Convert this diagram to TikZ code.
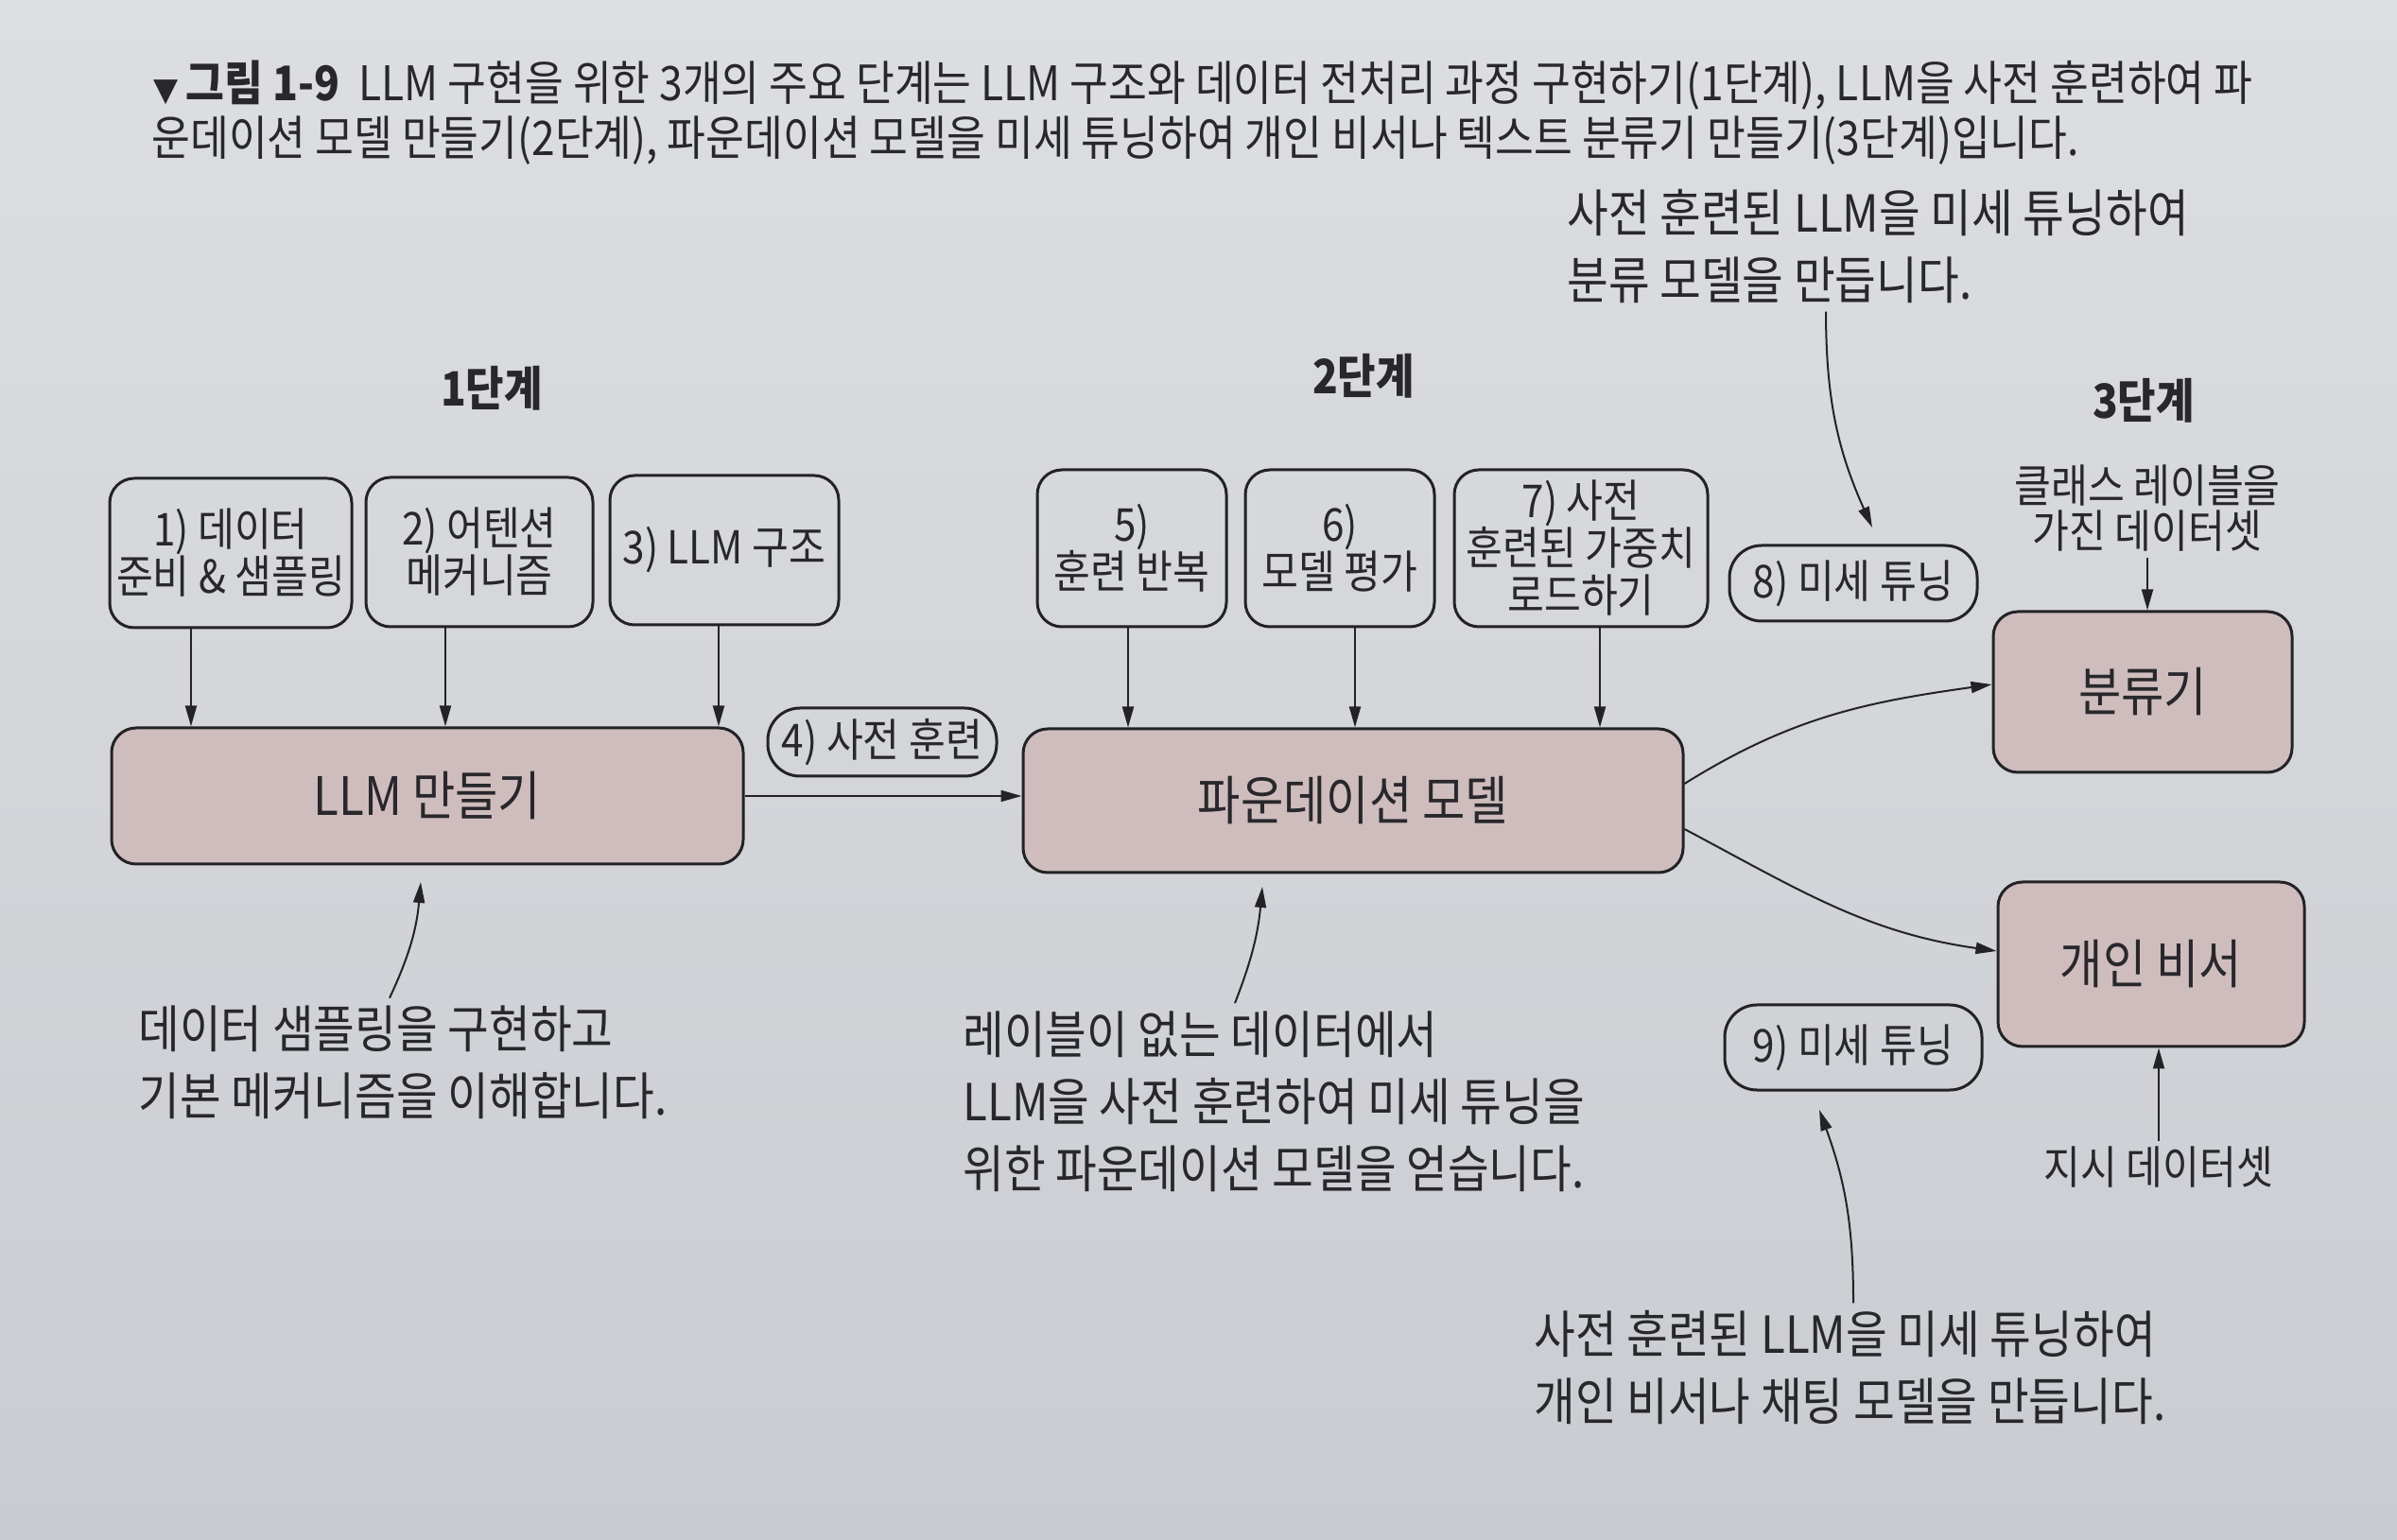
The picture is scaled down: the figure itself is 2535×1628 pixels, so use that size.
\documentclass[tikz,border=0pt]{standalone}
\usepackage{fontspec}
\setmainfont{Noto Sans CJK KR}[FakeStretch=0.88]
\newfontfamily\symf{DejaVu Sans}
\usetikzlibrary{arrows.meta}
\definecolor{bgtop}{RGB}{221,222,225}
\definecolor{bgbot}{RGB}{201,204,209}
\definecolor{pinkc}{RGB}{207,189,189}
\definecolor{txt}{RGB}{40,40,44}
\definecolor{linec}{RGB}{35,35,38}
\newcommand{\myfs}[2]{\fontsize{#1pt}{#2pt}\selectfont}
\tikzset{
  stepbox/.style={draw=linec, line width=1.5pt, rounded corners=13pt, align=center,
    text=txt, font=\myfs{24}{25}, inner sep=0pt},
  mainbox/.style={stepbox, fill=pinkc, font=\myfs{28}{32}},
  pillbox/.style={stepbox, rounded corners=17pt, font=\myfs{24}{28}},
  ann/.style={align=left, text=txt, font=\myfs{27}{35.5}, inner sep=0pt, anchor=west},
  small/.style={align=center, text=txt, font=\myfs{24}{24}, inner sep=0pt},
  stage/.style={text=txt, font=\bfseries\myfs{25}{28}, inner sep=0pt},
  capt/.style={anchor=west, inner sep=0pt, text=txt, font=\myfs{25.2}{28}},
  arr/.style={draw=linec, line width=1pt, -{Triangle[length=11pt,width=6pt]}},
}
\begin{document}
\begin{tikzpicture}[x=0.5pt,y=0.5pt]
\useasboundingbox (0,0) rectangle (2535,1628);
\shade[top color=bgtop, bottom color=bgbot] (0,0) rectangle (2535,1628);

% caption
\node[capt] (cap1) at (162,1538)
  {{\symf\fontsize{17pt}{20pt}\selectfont ▼}\,\textbf{그림 1-9}\ \ LLM 구현을 위한 3개의 주요 단계는 LLM 구조와 데이터 전처리 과정 구현하기(1단계), LLM을 사전 훈련하여 파};
\node[capt] (cap2) at (160,1479)
  {운데이션 모델 만들기(2단계), 파운데이션 모델을 미세 튜닝하여 개인 비서나 텍스트 분류기 만들기(3단계)입니다.};

% stage labels
\node[stage] (s1) at (520,1217) {1단계};
\node[stage] (s2) at (1442,1230) {2단계};
\node[stage] (s3) at (2267,1204) {3단계};

% stage 1 boxes
\node[stepbox, minimum width=128pt, minimum height=79pt] (b1) at (244,1043) {1) 데이터\\준비 \& 샘플링};
\node[stepbox, minimum width=120pt, minimum height=79pt] (b2) at (507,1044) {2) 어텐션\\메커니즘};
\node[stepbox, minimum width=121pt, minimum height=79pt] (b3) at (766,1046) {3) LLM 구조};
\node[mainbox, minimum width=334pt, minimum height=72pt] (llm) at (452,786) {LLM 만들기};
\node[pillbox, minimum width=121pt, minimum height=36pt] (p4) at (933,843) {4) 사전 훈련};

% stage 2 boxes
\node[stepbox, minimum width=100pt, minimum height=83pt] (b5) at (1197,1048) {5)\\훈련 반복};
\node[stepbox, minimum width=100pt, minimum height=83pt] (b6) at (1417,1048) {6)\\모델 평가};
\node[stepbox, minimum width=134pt, minimum height=83pt] (b7) at (1672,1048) {7) 사전\\훈련된 가중치\\로드하기};
\node[mainbox, minimum width=349pt, minimum height=76pt] (fm) at (1431,781) {파운데이션 모델};
\node[pillbox, minimum width=131pt, minimum height=40pt] (p8) at (1960,1011) {8) 미세 튜닝};
\node[pillbox, minimum width=136pt, minimum height=45pt] (p9) at (1960,520) {9) 미세 튜닝};

% stage 3 boxes
\node[mainbox, minimum width=158pt, minimum height=85pt] (cls) at (2266,896) {분류기};
\node[mainbox, minimum width=162pt, minimum height=87pt] (asst) at (2275,608) {개인 비서};
\node[small] (cdata) at (2271,1090) {클래스 레이블을\\가진 데이터셋};
\node[small] (idata) at (2283,393) {지시 데이터셋};

% annotations
\node[ann] (ann1) at (146,504) {데이터 샘플링을 구현하고\\기본 메커니즘을 이해합니다.};
\node[ann] (ann2) at (1018,463) {레이블이 없는 데이터에서\\LLM을 사전 훈련하여 미세 튜닝을\\위한 파운데이션 모델을 얻습니다.};
\node[ann] (ann3) at (1622,181) {사전 훈련된 LLM을 미세 튜닝하여\\개인 비서나 채팅 모델을 만듭니다.};
\node[ann] (ann4) at (1657,1367) {사전 훈련된 LLM을 미세 튜닝하여\\분류 모델을 만듭니다.};

% free ends of annotation arrows
\coordinate (t1) at (445,695);
\coordinate (t2) at (1335,690);
\coordinate (t3) at (1924,454);
\coordinate (t4) at (1980,1070);

% connectors stage 1
\draw[arr] ([xshift=-21pt]b1.south) -- ([xshift=-21pt]b1.south |- llm.north);
\draw[arr] ([xshift=-18pt]b2.south) -- ([xshift=-18pt]b2.south |- llm.north);
\draw[arr] ([xshift=-3pt]b3.south) -- ([xshift=-3pt]b3.south |- llm.north);
\draw[arr] (llm.east) -- (llm.east -| fm.west);

% connectors stage 2
\draw[arr] ([xshift=-2pt]b5.south) -- ([xshift=-2pt]b5.south |- fm.north);
\draw[arr] ([xshift=8pt]b6.south) -- ([xshift=8pt]b6.south |- fm.north);
\draw[arr] ([xshift=10pt]b7.south) -- ([xshift=10pt]b7.south |- fm.north);
\draw[arr] ([yshift=9pt]fm.east) to[out=32,in=188] ([yshift=4pt]cls.west);
\draw[arr] ([yshift=-15pt]fm.east) to[out=-28,in=172] ([yshift=7pt]asst.west);

% stage 3 inputs
\draw[arr] ([yshift=-3pt]cdata.south) -- (cdata.south |- cls.north);
\draw[arr] ([yshift=3pt]idata.north) -- (idata.north |- asst.south);

% annotation arrows
\draw[arr] ([xshift=133pt,yshift=4pt]ann1.north west) to[bend right=10] (t1);
\draw[arr] ([xshift=144pt,yshift=4pt]ann2.north west) to[bend right=8] (t2);
\draw[arr] ([xshift=169pt,yshift=4pt]ann3.north west) to[bend right=10] (t3);
\draw[arr] ([xshift=137pt,yshift=-4pt]ann4.south west) to[bend right=12] (t4);
\end{tikzpicture}
\end{document}
